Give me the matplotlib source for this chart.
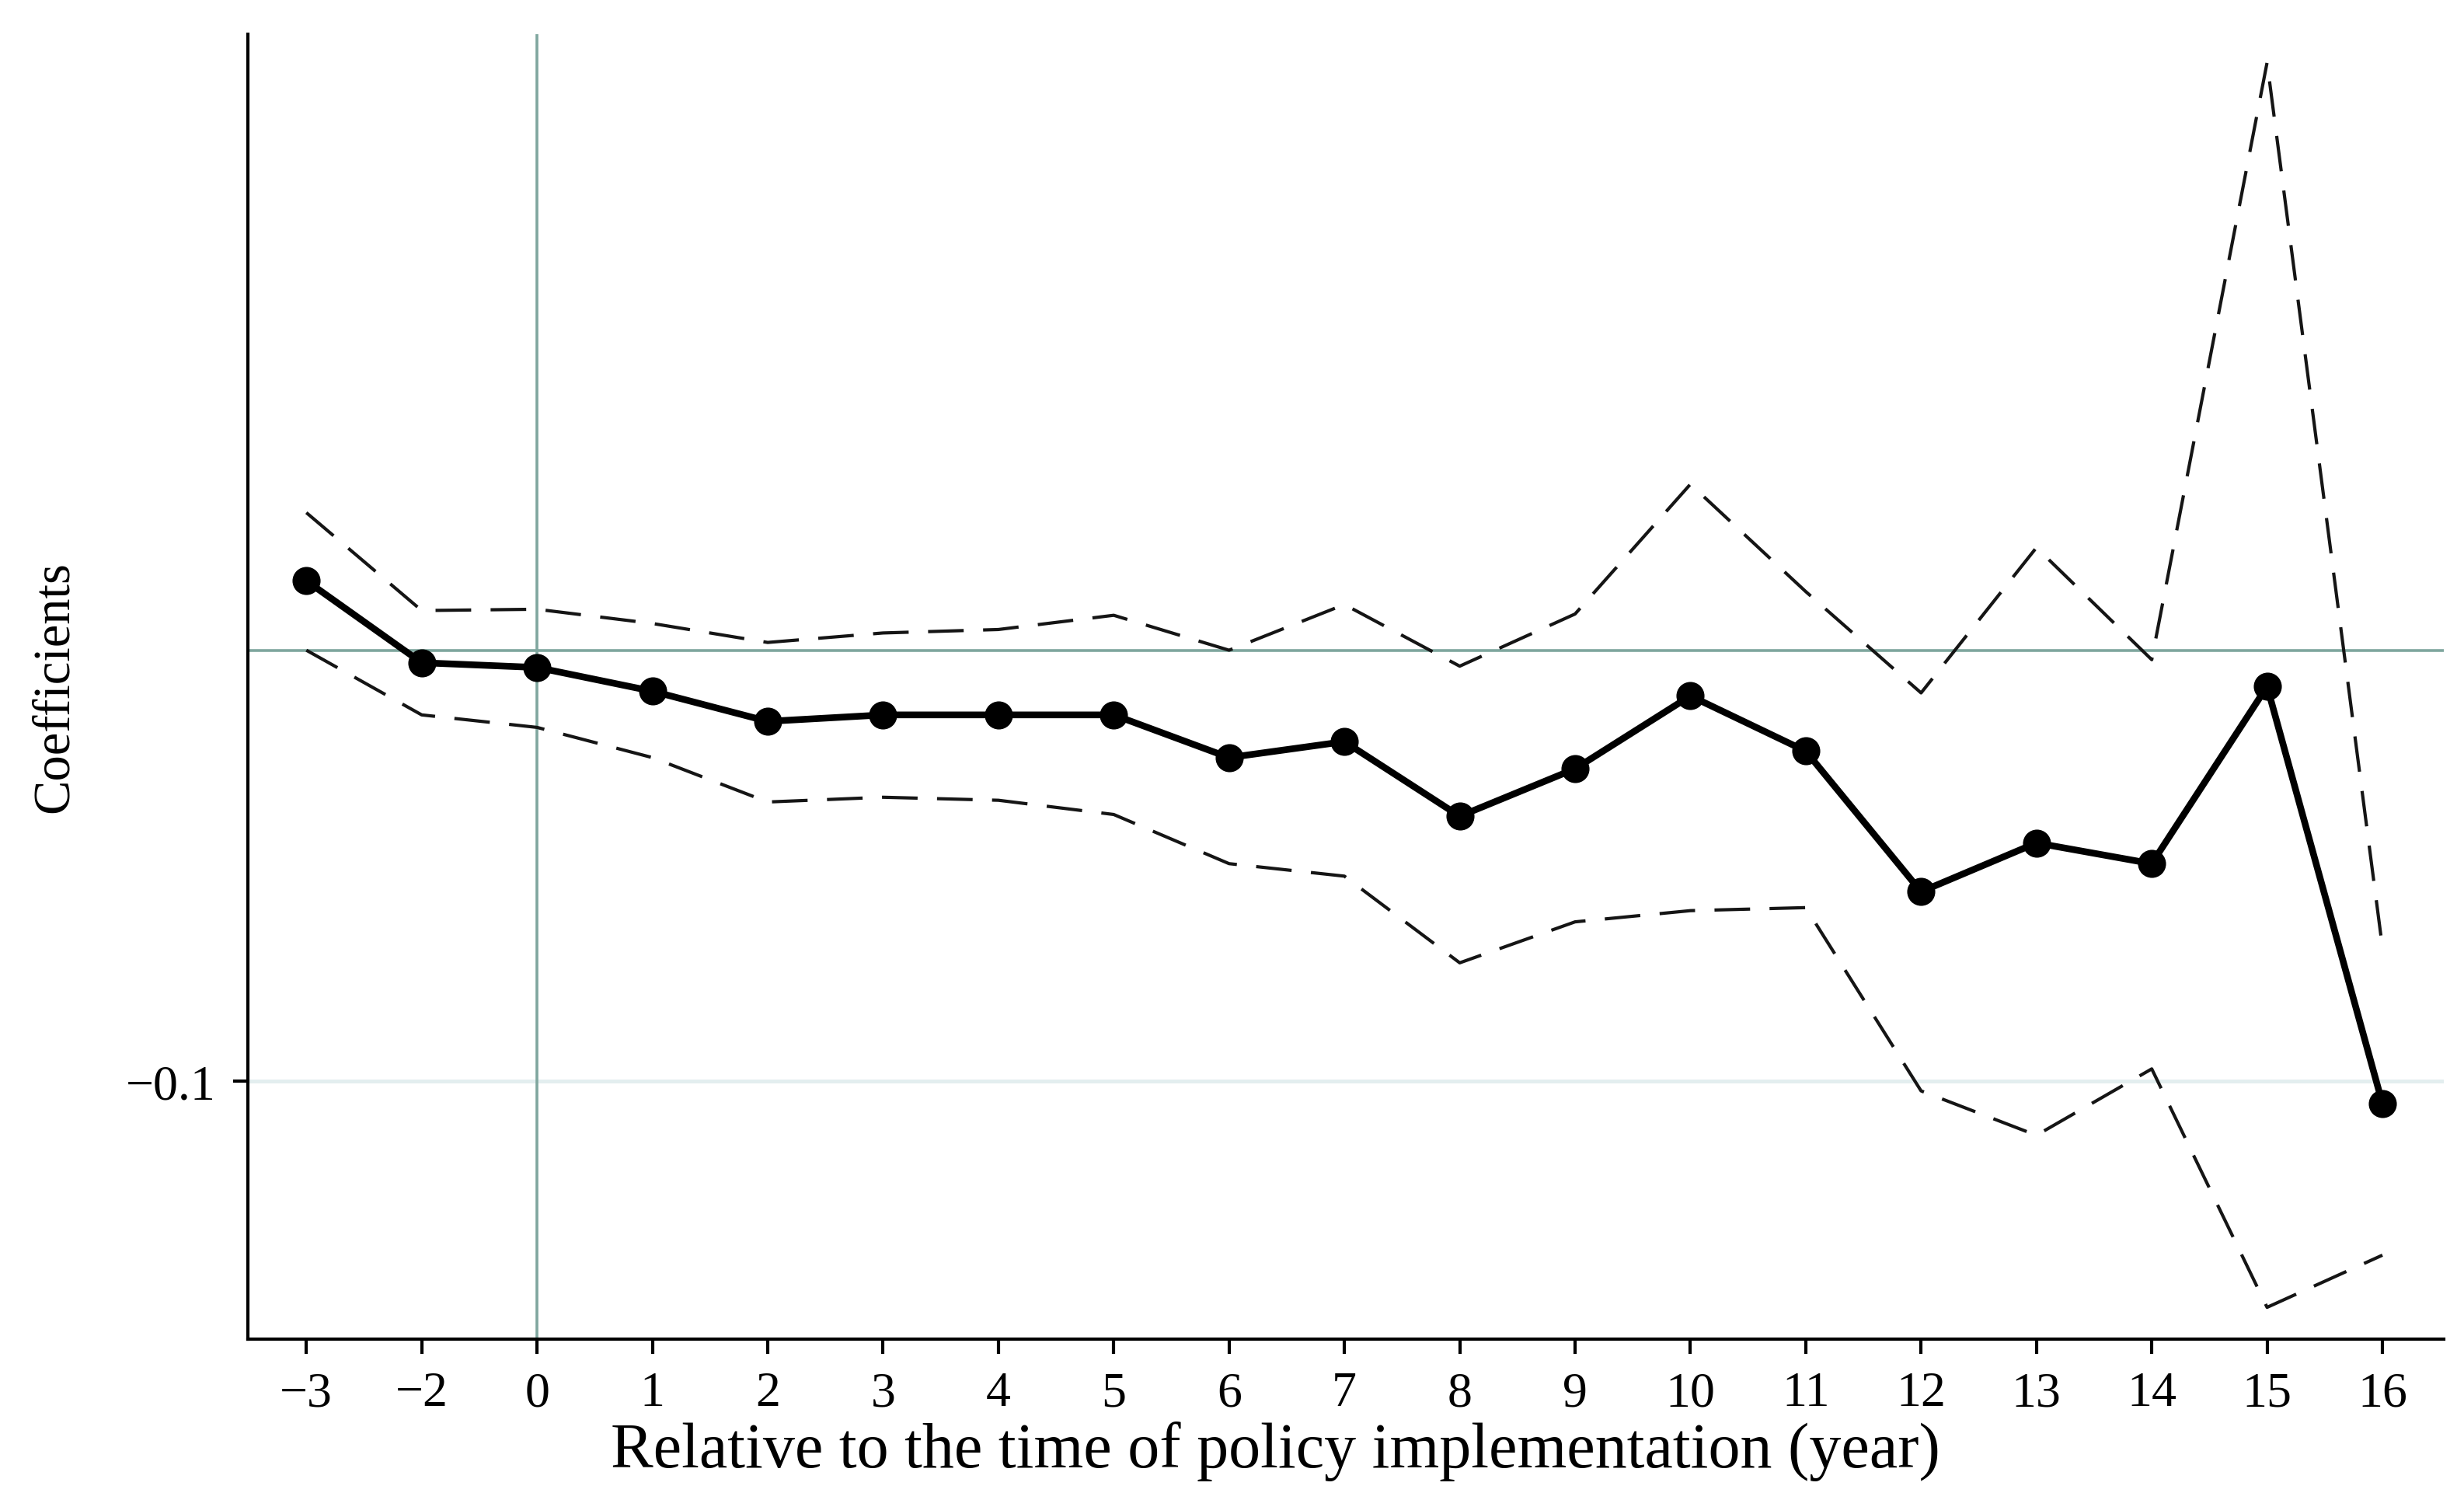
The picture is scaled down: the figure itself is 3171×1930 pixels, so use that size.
import numpy as np
import matplotlib.pyplot as plt

# event-time categories (year -1 is the omitted base period)
years = [-3, -2, 0, 1, 2, 3, 4, 5, 6, 7, 8, 9, 10, 11, 12, 13, 14, 15, 16]
coef = [0.0161, -0.0029, -0.0040, -0.0095, -0.0165, -0.0150, -0.0150, -0.0150,
        -0.0249, -0.0212, -0.0385, -0.0275, -0.0106, -0.0234, -0.0560, -0.0447,
        -0.0495, -0.0084, -0.1051]
upper = [0.0319, 0.0092, 0.0095, 0.0062, 0.0018, 0.0040, 0.0048, 0.0081,
         0.0000, 0.0106, -0.0037, 0.0084, 0.0385, 0.0136, -0.0099, 0.0238,
         -0.0022, 0.1363, -0.0689]
lower = [0.0000, -0.0150, -0.0179, -0.0249, -0.0352, -0.0341, -0.0348, -0.0381,
         -0.0495, -0.0524, -0.0725, -0.0630, -0.0604, -0.0597, -0.1022, -0.1125,
         -0.0971, -0.1524, -0.1403]

plt.rcParams['font.family'] = ['Liberation Serif', 'DejaVu Serif']

fig = plt.figure(figsize=(15.855, 9.655), dpi=200)
ax = fig.add_axes([0.1006, 0.1074, 0.8911, 0.8694])
x = np.arange(len(years))

ax.axhline(-0.1, color='#e3eeef', lw=1.8, zorder=0)
ax.axhline(0, color='#7fa69e', lw=1.3, zorder=1)
ax.axvline(years.index(0), color='#7fa69e', lw=1.3, zorder=1)

dash = (0, (11, 6))
ax.plot(x, upper, color='#151515', lw=1.5, linestyle=dash, zorder=2)
ax.plot(x, lower, color='#151515', lw=1.5, linestyle=dash, zorder=2)
ax.plot(x, coef, color='black', lw=3.1, marker='o', markersize=12, zorder=3)

ax.set_xlim(-0.507, 18.53)
ax.set_ylim(-0.1597, 0.1429)
ax.set_xticks(x)
ax.set_xticklabels([str(y).replace('-', '\u2212') for y in years])
ax.set_yticks([-0.1])
ax.set_yticklabels(['\u22120.1'])

for s in ['top', 'right']:
    ax.spines[s].set_visible(False)
for s in ['left', 'bottom']:
    ax.spines[s].set_linewidth(1.5)
ax.tick_params(axis='both', direction='out', length=7, width=1.5, labelsize=23, pad=8)

ax.set_xlabel('Relative to the time of policy implementation (year)', fontsize=29.5)
ax.xaxis.set_label_coords(0.468, -0.063)
ax.set_ylabel('Coefficients', fontsize=24, labelpad=22)

plt.savefig('out.png', dpi=200)
plt.close()
